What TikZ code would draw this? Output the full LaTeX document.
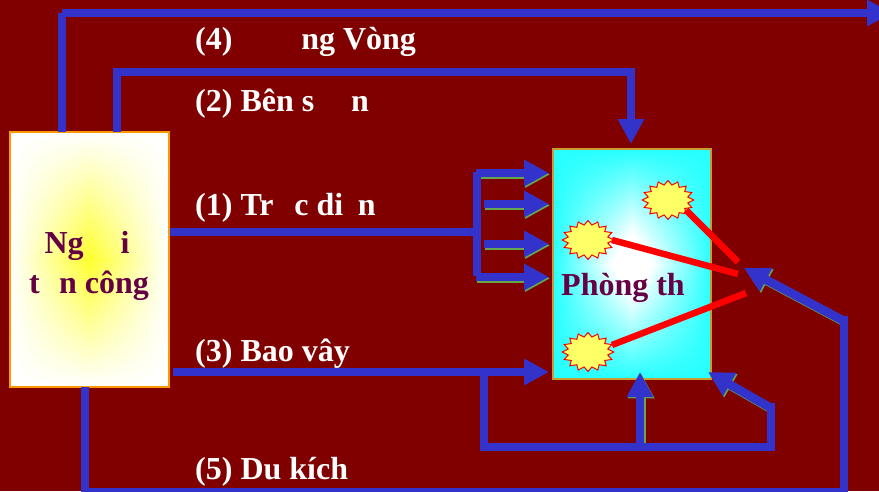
\documentclass[tikz,border=0pt]{standalone}
\usepackage{fontspec}
\setmainfont{Liberation Serif}
\usetikzlibrary{arrows.meta,shapes.geometric}
\definecolor{bgred}{HTML}{800000}
\definecolor{lineblue}{HTML}{3333CC}
\definecolor{shadowgreen}{HTML}{66A64D}
\definecolor{boxpurple}{HTML}{660044}
\definecolor{burstyellow}{HTML}{FFFF66}
\definecolor{edgeorange}{HTML}{FF9900}
\definecolor{edgeolive}{HTML}{CC9933}
\pgfdeclarefunctionalshading{glowyellow}{\pgfpoint{-50bp}{-50bp}}{\pgfpoint{50bp}{50bp}}{}{
 25 div abs 1 exch sub exch 25 div abs 1 exch sub mul
 dup 0 lt {pop 0} if
 0.82 mul 1 exch sub 1 exch 1 exch
}
\pgfdeclarefunctionalshading{glowcyan}{\pgfpoint{-50bp}{-50bp}}{\pgfpoint{50bp}{50bp}}{}{
 25 div abs 1 exch sub exch 25 div abs 1 exch sub mul
 dup 0 lt {pop 0} if
 1.15 mul 0.15 add dup 1 gt {pop 1} if 1 1
}
\tikzset{
 x=1pt,y=-1pt,
 route/.style={draw=lineblue,line width=8.8pt,line cap=butt,line join=miter},
 tipped/.style={route,-{Triangle[length=25pt,width=25pt]}},
 greentip/.style={tipped,preaction={draw=shadowgreen,line width=8.8pt,transform canvas={xshift=1.2pt,yshift=-1.4pt}}},
 label/.style={anchor=west,text=white,font=\fontsize{32}{36}\selectfont\bfseries,inner sep=0pt},
 boxtext/.style={text=boxpurple,font=\fontsize{32}{40}\selectfont\bfseries,align=center,inner sep=0pt},
 burst/.style={star,star points=16,star point ratio=1.28,draw=red,fill=burstyellow,line width=1pt,minimum size=39pt,inner sep=0pt,xscale=1.32,transform shape},
 strike/.style={draw=red,line width=6.5pt},
}
\begin{document}
\begin{tikzpicture}
\useasboundingbox (0,0) rectangle (879,491);
\fill[bgred] (0,0) rectangle (879,491);
% boxes
\shade[shading=glowyellow] (10,132) rectangle (169,387);
\draw[draw=edgeorange,line width=1.4pt] (10,132) rectangle (169,387);
\shade[shading=glowcyan] (553,149) rectangle (711,379);
\draw[draw=edgeolive,line width=1.4pt] (553,149) rectangle (711,379);
\node[minimum width=159pt,minimum height=255pt,inner sep=0pt] (atk) at (89.5,259.5) {};
\node[minimum width=158pt,minimum height=230pt,inner sep=0pt] (def) at (632,264) {};
\node[boxtext] (atkt) at (89,266) {Ng\hspace{1.16em}i\hspace*{0.12em}\\t\hspace{0.6em}n công};
\node[boxtext,anchor=west] (deft) at (561,288) {Phòng th};
% coordinates
\coordinate (a4s) at (62,132); \coordinate (a4a) at (62,13); \coordinate (a4e) at (892,13);
\coordinate (a2s) at (117,132); \coordinate (a2a) at (117,72); \coordinate (a2b) at (631,72); \coordinate (a2e) at (631,144);
\coordinate (a1s) at (170,232); \coordinate (a1m) at (477,232);
\coordinate (f1s) at (476,173); \coordinate (f1e) at (549,173);
\coordinate (f2s) at (484,204); \coordinate (f2e) at (549,204);
\coordinate (f3s) at (484,244); \coordinate (f3e) at (549,244);
\coordinate (f4s) at (476,277); \coordinate (f4e) at (549,277);
\coordinate (b1) at (477,172); \coordinate (b2) at (477,276);
\coordinate (a3s) at (173,372); \coordinate (a3e) at (549,372);
\coordinate (r1) at (484,372); \coordinate (r2) at (484,447);
\coordinate (r3) at (771,447); \coordinate (r4) at (771,403); \coordinate (r6) at (769,407); \coordinate (r5) at (708,372);
\coordinate (u1) at (640,443); \coordinate (u2) at (640,372);
\coordinate (a5s) at (85,387); \coordinate (a5a) at (85,492); \coordinate (a5b) at (844,492);
\coordinate (a5c) at (844,316); \coordinate (a5d) at (842,320); \coordinate (a5e) at (744,268);
% routes
\draw[route] (a4s) -- (a4a);
\draw[tipped] (a4a) -- (a4e);
\draw[tipped] (a2s) -- (a2a) -- (a2b) -- (a2e);
\draw[route] (a1s) -- (a1m);
\draw[greentip] (f1s) -- (f1e);
\draw[greentip] (f2s) -- (f2e);
\draw[greentip] (f3s) -- (f3e);
\draw[greentip] (f4s) -- (f4e);
\draw[route] (b1) -- (b2);
\draw[tipped] (a3s) -- (a3e);
\draw[greentip] (r6) -- (r5);
\draw[greentip] (u1) -- (u2);
\draw[route] (r1) -- (r2) -- (r3) -- (r4);
\draw[greentip] (a5d) -- (a5e);
\draw[route] (a5s) -- (a5a) -- (a5b) -- (a5c);
% bursts
\node[burst] (s1) at (668,200) {};
\node[burst] (s2) at (588,240) {};
\node[burst] (s3) at (588,352) {};
\coordinate (h1) at (738,262); \coordinate (h2) at (738,274); \coordinate (h3) at (746,293);
\draw[strike] (686,210) -- (h1);
\draw[strike] (612,240) -- (h2);
\draw[strike] (612,345) -- (h3);
% labels
\node[label] (l4) at (195,42) {(4)\hspace{2.15em}ng Vòng};
\node[label] (l2) at (195,104) {(2) Bên s\hspace{1.15em}n};
\node[label] (l1) at (195,208) {(1) Tr\hspace{0.65em}c di\hspace{0.45em}n};
\node[label] (l3) at (195,354) {(3) Bao vây};
\node[label] (l5) at (195,472) {(5) Du kích};
\end{tikzpicture}
\end{document}
